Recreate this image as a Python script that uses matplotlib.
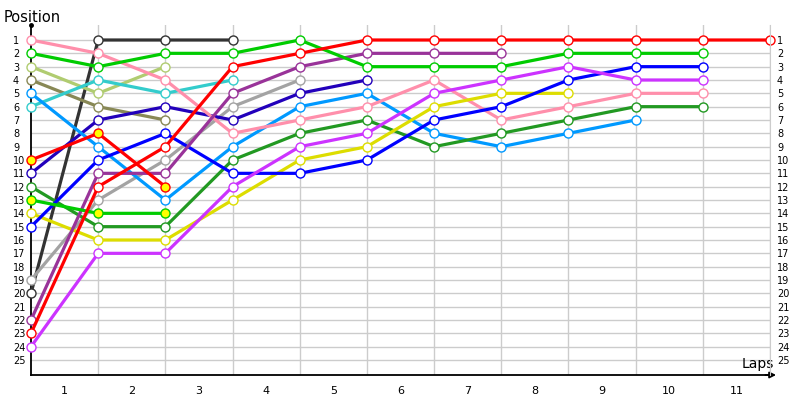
import matplotlib
matplotlib.use("Agg")
import matplotlib.pyplot as plt

# positions per lap (lap 0 = start grid), one list per driver
laps_label = [str(i) for i in range(1, 12)]
positions = list(range(1, 26))

pink = [1, 2, 4, 8, 7, 6, 4, 7, 6, 5, 5]
green = [2, 3, 2, 2, 1, 3, 3, 3, 2, 2, 2]
light_olive = [3, 5, 3]
olive = [4, 6, 7]
sky_blue = [5, 9, 13, 9, 6, 5, 8, 9, 8, 7]
turquoise = [6, 4, 5, 4]
red_pit = [10, 8, 12]
indigo = [11, 7, 6, 7, 5, 4]
dark_green = [12, 15, 15, 10, 8, 7, 9, 8, 7, 6, 6]
green_pit = [13, 14, 14]
yellow = [14, 16, 16, 13, 10, 9, 6, 5, 5]
blue = [15, 10, 8, 11, 11, 10, 7, 6, 4, 3, 3]
gray = [19, 13, 10, 6, 4]
black = [20, 1, 1, 1]
purple = [22, 11, 11, 5, 3, 2, 2, 2]
red = [23, 12, 9, 3, 2, 1, 1, 1, 1, 1, 1, 1]
magenta = [24, 17, 17, 12, 9, 8, 5, 4, 3, 4, 4]

series = [
    (black, '#333333', 'white'),
    (light_olive, '#b0cc70', 'white'),
    (olive, '#888855', 'white'),
    (turquoise, '#33cccc', 'white'),
    (gray, '#a3a3a3', 'white'),
    (indigo, '#2200bb', 'white'),
    (sky_blue, '#0099ff', 'white'),
    (pink, '#ff8fab', 'white'),
    (dark_green, '#229922', 'white'),
    (yellow, '#dddd00', 'white'),
    (blue, '#0000ff', 'white'),
    (magenta, '#cc33ff', 'white'),
    (purple, '#993399', 'white'),
    (green, '#00cc00', 'white'),
    (green_pit, '#00cc00', '#ffff00'),
    (red_pit, '#ff0000', '#ffff00'),
    (red, '#ff0000', 'white'),
]

fig = plt.figure(figsize=(8, 4), dpi=100)
ax = fig.add_axes([31 / 800, 25 / 400, 739 / 800, 350 / 400])

for pos in positions:
    ax.axhline(pos, color='#cccccc', lw=1, zorder=0)
for lap in range(1, 12):
    ax.axvline(lap, color='#cccccc', lw=1, zorder=0)

for vals, col, face in series:
    ax.plot(range(len(vals)), vals, color=col, lw=2.3, marker='o', ms=6.5,
            mfc=face, mec=col, mew=1.0, zorder=3, clip_on=False)

ax.set_xlim(0, 11)
ax.set_ylim(26.125, -0.125)

# left position labels, left aligned
ax.set_yticks(positions)
ax.set_yticklabels([str(p) for p in positions])
ax.tick_params(axis='y', length=0, labelsize=7, pad=13)
for t in ax.get_yticklabels():
    t.set_horizontalalignment('left')

# right position labels
ax2 = ax.twinx()
ax2.set_ylim(ax.get_ylim())
ax2.set_yticks(positions)
ax2.set_yticklabels([str(p) for p in positions])
ax2.tick_params(axis='y', length=0, labelsize=7, pad=5)
for s in ['top', 'left', 'bottom']:
    ax2.spines[s].set_visible(False)
ax2.spines['right'].set_color('#cccccc')

ax.set_xticks([])
ax.set_xticks([i + 0.5 for i in range(11)], minor=True)
ax.set_xticklabels(laps_label, minor=True)
ax.tick_params(axis='x', which='minor', length=0, labelsize=8, pad=8)

ax.spines['top'].set_visible(False)
ax.spines['right'].set_visible(False)
ax.spines['left'].set_linewidth(1.3)
ax.spines['bottom'].set_linewidth(1.3)

ax.annotate('', xy=(1.012, 0), xytext=(0.99, 0), xycoords='axes fraction',
            arrowprops=dict(arrowstyle='-|>', color='black', lw=1.3,
                            mutation_scale=9), annotation_clip=False)
ax.plot([0], [1.0], marker='o', ms=2.5, color='black', transform=ax.transAxes,
        clip_on=False)

ax.text(1.005, 0.02, 'Laps', transform=ax.transAxes, ha='right',
        va='baseline', fontsize=10)
fig.text(4 / 800, 1 - 22 / 400, 'Position', fontsize=10.5, ha='left',
         va='baseline')

fig.savefig('out.png', dpi=100)
